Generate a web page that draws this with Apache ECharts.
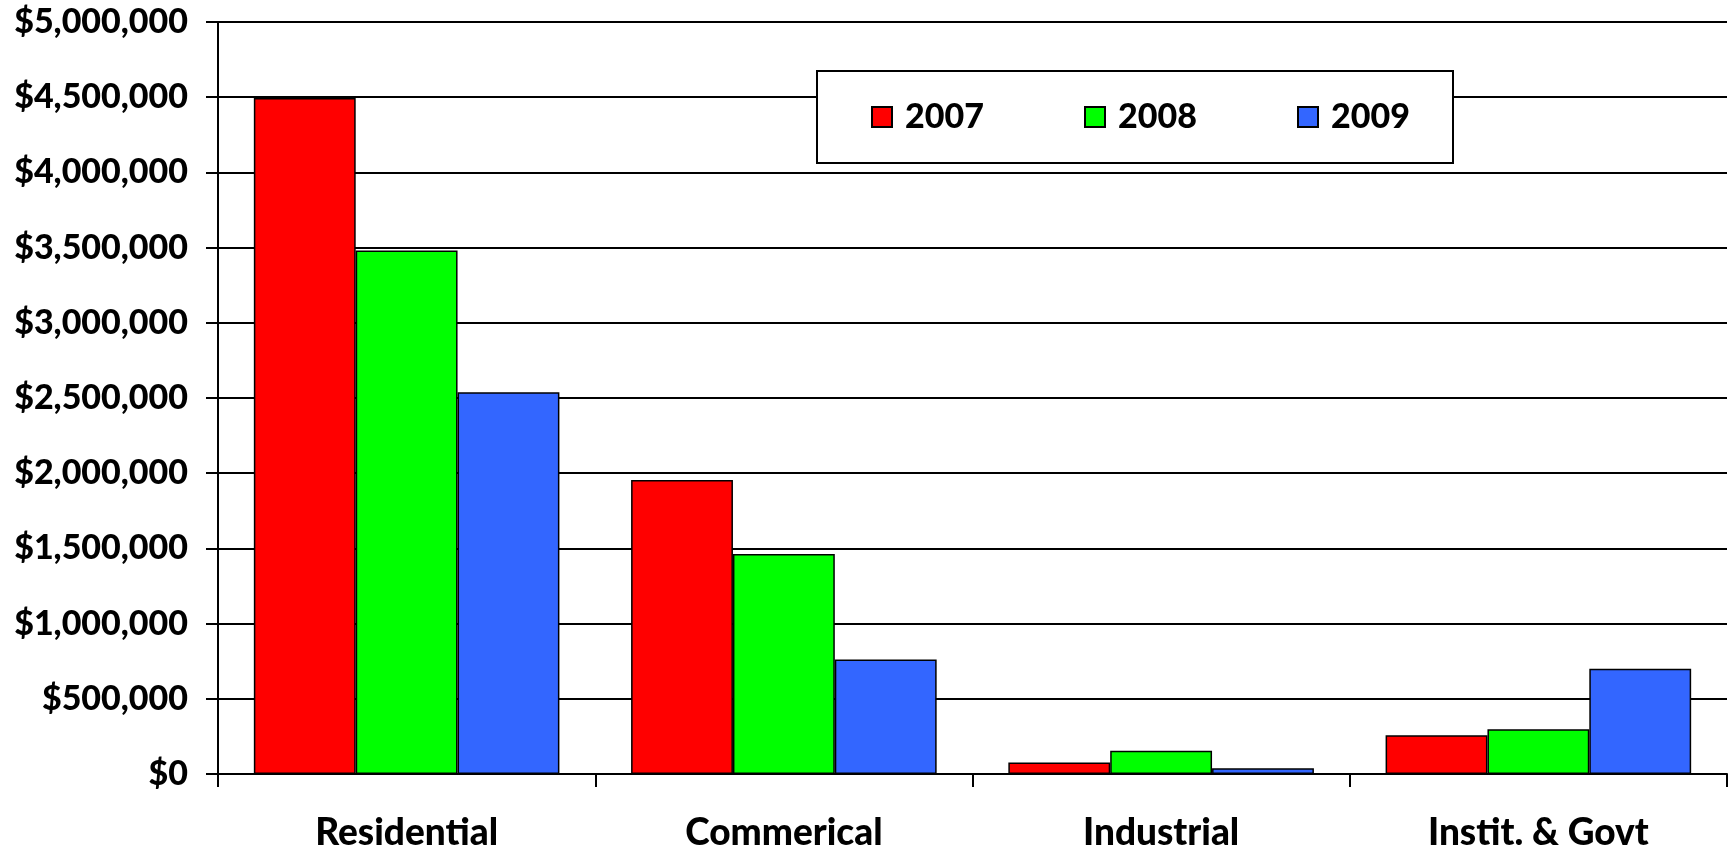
<!DOCTYPE html>
<html>
<head>
<meta charset="utf-8">
<title>Construction Value by Sector</title>
<script src="https://cdn.jsdelivr.net/npm/echarts@6/dist/echarts.min.js"></script>
<style>
  html, body { margin: 0; padding: 0; background: #ffffff; }
  #chart { width: 1729px; height: 852px; }
</style>
</head>
<body>
<div id="chart"></div>
<script>
// Sectors along the category axis
const categories = ['Residential', 'Commerical', 'Industrial', 'Instit. & Govt'];

// Yearly values per sector (dollars)
const values2007 = [4495000, 1955000, 76000, 258000];
const values2008 = [3480000, 1462000, 154000, 298000];
const values2009 = [2538000, 762000, 38000, 700000];

const years = ['2007', '2008', '2009'];
const yearColors = ['#FF0000', '#00FF00', '#3366FF'];

const FONT = 'Lato';
const WEIGHT = 900;

function money(v) {
  return '$' + Number(v).toLocaleString('en-US');
}

const seriesData = [values2007, values2008, values2009];

const chart = echarts.init(document.getElementById('chart'), null, { renderer: 'canvas' });

chart.setOption({
  animation: false,
  backgroundColor: '#ffffff',
  textStyle: { fontFamily: FONT },
  grid: { left: 218, right: 2, top: 22, bottom: 72, containLabel: false },
  legend: {
    left: 817,
    top: 71,
    orient: 'horizontal',
    padding: [26, 32, 26, 54],
    itemGap: 89,
    itemWidth: 20,
    itemHeight: 20,
    icon: 'rect',
    borderColor: '#000000',
    borderWidth: 2,
    backgroundColor: '#ffffff',
    data: years,
    textStyle: {
      fontFamily: FONT,
      fontWeight: WEIGHT,
      fontSize: 34,
      color: '#000000',
      width: 90,
      lineHeight: 40,
      padding: [0, 0, 0, 8]
    }
  },
  xAxis: {
    type: 'category',
    data: categories,
    boundaryGap: true,
    axisLine: { show: true, lineStyle: { color: '#000000', width: 2 } },
    axisTick: { show: true, length: 13, lineStyle: { color: '#000000', width: 2 } },
    axisLabel: {
      margin: 41,
      color: '#000000',
      fontFamily: FONT,
      fontWeight: WEIGHT,
      fontSize: 37
    },
    splitLine: { show: false }
  },
  yAxis: {
    type: 'value',
    min: 0,
    max: 5000000,
    interval: 500000,
    axisLine: { show: true, lineStyle: { color: '#000000', width: 2 } },
    axisTick: { show: true, length: 12, lineStyle: { color: '#000000', width: 2 } },
    axisLabel: {
      margin: 30,
      color: '#000000',
      fontFamily: FONT,
      fontWeight: WEIGHT,
      fontSize: 34,
      formatter: money
    },
    splitLine: { show: true, lineStyle: { color: '#000000', width: 2 } }
  },
  series: years.map(function (y, i) {
    return {
      name: y,
      type: 'bar',
      data: seriesData[i],
      barGap: '0%',
      barCategoryGap: '19%',
      itemStyle: {
        color: yearColors[i],
        borderColor: '#000000',
        borderWidth: 1.5
      }
    };
  })
});
</script>
</body>
</html>
